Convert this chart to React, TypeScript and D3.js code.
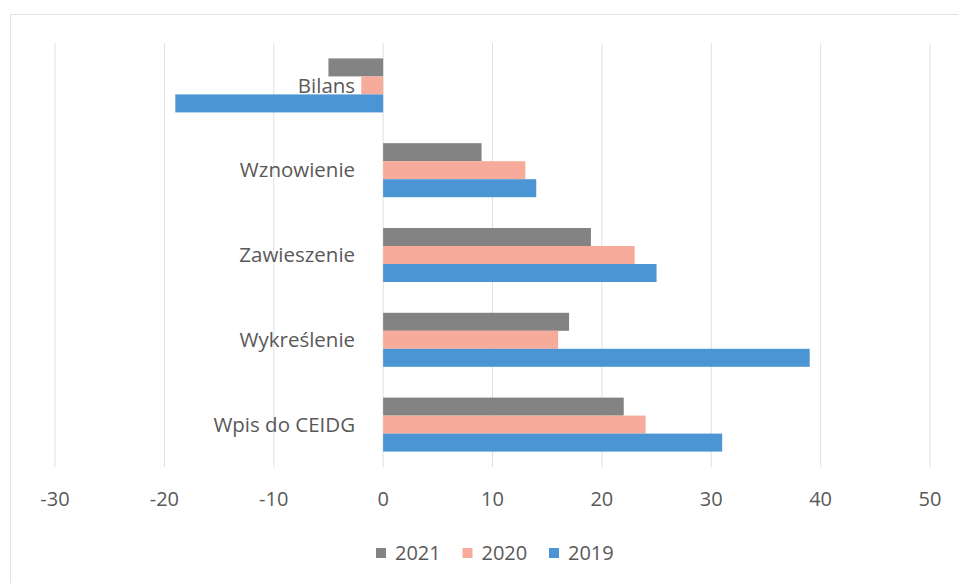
import React from "react";
import * as d3 from "d3";

const categories = ["Bilans", "Wznowienie", "Zawieszenie", "Wykreślenie", "Wpis do CEIDG"];
const seriesNames = ["2021", "2020", "2019"];
const values2021 = [-5, 9, 19, 17, 22];
const values2020 = [-2, 13, 23, 16, 24];
const values2019 = [-19, 14, 25, 39, 31];
const tickValues = [-30, -20, -10, 0, 10, 20, 30, 40, 50];
const colors = ["#838383", "#f6ab9b", "#4b95d5"];

const W = 958;
const H = 583;
const FONT = "'Open Sans', 'Noto Sans', sans-serif";
const TEXT = "#595959";

export default function App() {
  const seriesValues = [values2021, values2020, values2019];
  const x = d3.scaleLinear().domain([-30, 50]).range([55, 930]);
  const y = d3.scaleBand<string>().domain(categories).range([43, 467]).paddingInner(0.363).paddingOuter(0.1815);
  const ys = d3.scaleBand<string>().domain(seriesNames).range([0, y.bandwidth()]);
  const x0 = x(0);

  const legendStart = 376;
  const legendStep = 86.5;

  return (
    <svg width={W} height={H} style={{ position: "absolute", left: 0, top: 0, background: "#fff" }} fontFamily={FONT}>
      <rect x={0} y={0} width={W} height={H} fill="#fff" />
      <rect x={10.5} y={14.5} width={W} height={H} fill="none" stroke="#e2e2e2" strokeWidth={1} />
      {tickValues.map((t) => (
        <line key={"g" + t} x1={x(t)} x2={x(t)} y1={43} y2={467} stroke="#e0e0e0" strokeWidth={1} />
      ))}
      {categories.map((c, i) => (
        <g key={c}>
          {seriesNames.map((s, j) => {
            const v = seriesValues[j][i];
            const xa = Math.min(x(v), x0);
            const w = Math.abs(x(v) - x0);
            return <rect key={s} x={xa} y={(y(c) as number) + (ys(s) as number)} width={w} height={ys.bandwidth()} fill={colors[j]} />;
          })}
        </g>
      ))}
      {categories.map((c) => (
        <text key={"l" + c} x={x0 - 28} y={(y(c) as number) + y.bandwidth() / 2} dy="0.35em" textAnchor="end" fontSize={20.5} fill={TEXT}>
          {c}
        </text>
      ))}
      {tickValues.map((t) => (
        <text key={"t" + t} x={x(t)} y={506} textAnchor="middle" fontSize={20} fill={TEXT}>
          {String(t)}
        </text>
      ))}
      {seriesNames.map((s, j) => (
        <g key={"lg" + s} transform={`translate(${legendStart + j * legendStep},0)`}>
          <rect x={0} y={548} width={10} height={10} fill={colors[j]} />
          <text x={19} y={560} fontSize={20} fill={TEXT}>
            {s}
          </text>
        </g>
      ))}
    </svg>
  );
}
